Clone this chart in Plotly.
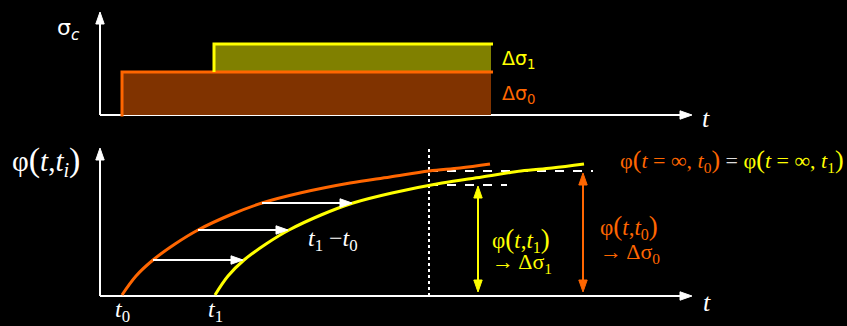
import plotly.graph_objects as go

# ---------------- data (chart units, 1 unit ~ 100 px) ----------------
t0 = 0.22            # first loading time
t1 = 1.14            # second loading time
t_load_end = 3.91    # end of drawn stress blocks
t_obs = 3.29         # observation time (dotted line)
t_axis_end = 5.92    # time axis extent
sigma_axis_top = 1.03
phi_axis_top = 1.48

d_sigma0 = 0.43      # stress increment at t0
d_sigma1 = 0.28      # stress increment at t1

creep_t0_t = [0.22, 0.36, 0.53, 0.75, 0.98, 1.30, 1.62, 2.00, 2.50, 2.90, 3.29, 3.60, 3.90]
creep_t0_phi = [0.01, 0.20, 0.36, 0.52, 0.66, 0.81, 0.93, 1.03, 1.13, 1.19, 1.25, 1.28, 1.32]
creep_t1_t = [1.15, 1.28, 1.44, 1.66, 1.89, 2.21, 2.53, 2.92, 3.42, 3.82, 4.21, 4.52, 4.84]
creep_t1_phi = [0.01, 0.20, 0.36, 0.52, 0.66, 0.81, 0.93, 1.03, 1.13, 1.19, 1.25, 1.28, 1.32]

shift_phi = [0.36, 0.66, 0.93]
shift_from = [0.53, 0.98, 1.62]
shift_to = [1.43, 1.88, 2.52]

phi_obs_t0 = 1.25    # phi(t_obs, t0)
phi_obs_t1 = 1.11    # phi(t_obs, t1)
dash_end_t0 = 4.93
dash_end_t1 = 4.07
arrow_t1_at = 3.78
arrow_t0_at = 4.83
arrow_base = 0.04

ORANGE = "#FF6600"
YELLOW = "#FFFF00"
WHITE = "#FFFFFF"
ORANGE_FILL = "#803300"
YELLOW_FILL = "#808000"
HEAD_LEN = 0.12
HEAD_HALF = 0.042

fig = go.Figure()


def line(xs, ys, color, width=2, dash=None, yaxis="y", shape="linear"):
    fig.add_trace(go.Scatter(x=xs, y=ys, mode="lines", yaxis=yaxis,
                             line=dict(color=color, width=width, dash=dash, shape=shape),
                             hoverinfo="skip", showlegend=False))


def head(x, y, direction, color, yaxis="y"):
    if direction == "right":
        xs = [x, x - HEAD_LEN, x - HEAD_LEN, x]
        ys = [y, y + HEAD_HALF, y - HEAD_HALF, y]
    elif direction == "up":
        xs = [x, x - HEAD_HALF, x + HEAD_HALF, x]
        ys = [y, y - HEAD_LEN, y - HEAD_LEN, y]
    else:  # down
        xs = [x, x - HEAD_HALF, x + HEAD_HALF, x]
        ys = [y, y + HEAD_LEN, y + HEAD_LEN, y]
    fig.add_trace(go.Scatter(x=xs, y=ys, mode="lines", fill="toself", fillcolor=color,
                             yaxis=yaxis, line=dict(color=color, width=1),
                             hoverinfo="skip", showlegend=False))


# ---------------- top panel: stress history ----------------
line([0, 0], [0, sigma_axis_top - HEAD_LEN + 0.01], WHITE, 2, yaxis="y2")
head(0, sigma_axis_top, "up", WHITE, yaxis="y2")
line([0, t_axis_end - HEAD_LEN + 0.01], [0, 0], WHITE, 2, yaxis="y2")
head(t_axis_end, 0, "right", WHITE, yaxis="y2")

fig.add_trace(go.Scatter(x=[t0, t0, t_load_end, t_load_end, t0],
                         y=[0, d_sigma0, d_sigma0, 0, 0], mode="lines", fill="toself",
                         fillcolor=ORANGE_FILL, line=dict(width=0, color=ORANGE_FILL),
                         yaxis="y2", hoverinfo="skip", showlegend=False))
top1 = d_sigma0 + d_sigma1
fig.add_trace(go.Scatter(x=[t1, t1, t_load_end, t_load_end, t1],
                         y=[d_sigma0, top1, top1, d_sigma0, d_sigma0], mode="lines",
                         fill="toself", fillcolor=YELLOW_FILL,
                         line=dict(width=0, color=YELLOW_FILL),
                         yaxis="y2", hoverinfo="skip", showlegend=False))
line([t0, t0, t_load_end + 0.02], [-0.015, d_sigma0, d_sigma0], ORANGE, 3, yaxis="y2")
line([t1, t1, t_load_end + 0.02], [d_sigma0, top1, top1], YELLOW, 3, yaxis="y2")

# ---------------- bottom panel: creep coefficients ----------------
line([0, 0], [0, phi_axis_top - HEAD_LEN + 0.01], WHITE, 2)
head(0, phi_axis_top, "up", WHITE)
line([0, t_axis_end - HEAD_LEN + 0.01], [0, 0], WHITE, 2)
head(t_axis_end, 0, "right", WHITE)

line([t_obs, t_obs], [0, phi_axis_top], WHITE, 2, dash="dot")
line([t_obs, dash_end_t0], [phi_obs_t0, phi_obs_t0], WHITE, 2, dash="dash")
line([t_obs, dash_end_t1], [phi_obs_t1, phi_obs_t1], WHITE, 2, dash="dash")

line(creep_t0_t, creep_t0_phi, ORANGE, 3, shape="spline")
line(creep_t1_t, creep_t1_phi, YELLOW, 3, shape="spline")

for p, a, b in zip(shift_phi, shift_from, shift_to):
    line([a, b - HEAD_LEN + 0.01], [p, p], WHITE, 2)
    head(b, p, "right", WHITE)

line([arrow_t1_at, arrow_t1_at], [arrow_base + HEAD_LEN - 0.01, phi_obs_t1 + 0.02 - HEAD_LEN + 0.01], YELLOW, 2)
head(arrow_t1_at, phi_obs_t1 - 0.01, "up", YELLOW)
head(arrow_t1_at, arrow_base, "down", YELLOW)
line([arrow_t0_at, arrow_t0_at], [arrow_base + HEAD_LEN - 0.01, phi_obs_t0 - 0.01 - HEAD_LEN + 0.01], ORANGE, 2)
head(arrow_t0_at, phi_obs_t0 - 0.02, "up", ORANGE)
head(arrow_t0_at, arrow_base, "down", ORANGE)

# ---------------- text ----------------
SANS = "DejaVu Sans"
SERIF = "Liberation Serif"


def text(x, y, s, color, size, family, yref="y", xanchor="center", align="center"):
    fig.add_annotation(x=x, y=y, xref="x", yref=yref, text=s, showarrow=False,
                       font=dict(color=color, size=size, family=family),
                       xanchor=xanchor, yanchor="middle", align=align)


text(-0.32, 0.86, "σ<sub><i>c</i></sub>", WHITE, 22, SANS, yref="y2")
text(t_load_end + 0.09, 0.56, "Δσ<sub>1</sub>", YELLOW, 19, SANS, yref="y2", xanchor="left")
text(t_load_end + 0.09, 0.21, "Δσ<sub>0</sub>", ORANGE, 19, SANS, yref="y2", xanchor="left")
text(6.06, -0.03, "<i>t</i>", WHITE, 26, SERIF, yref="y2")

text(-0.54, 1.35, "φ<span style='font-size:34px'>(</span><i>t</i>,<i>t<sub>i</sub></i>"
     "<span style='font-size:34px'>)</span>", WHITE, 29, SERIF)
text(t0, -0.15, "<i>t</i><sub>0</sub>", WHITE, 24, SERIF)
text(t1 + 0.01, -0.15, "<i>t</i><sub>1</sub>", WHITE, 24, SERIF)
text(2.33, 0.56, "<i>t</i><sub>1</sub> −<i>t</i><sub>0</sub>", WHITE, 24, SERIF)
text(6.07, -0.06, "<i>t</i>", WHITE, 26, SERIF)

text(3.90, 0.56, "φ<span style='font-size:27px'>(</span><i>t</i>,<i>t</i><sub>1</sub>"
     "<span style='font-size:27px'>)</span>", YELLOW, 23, SERIF, xanchor="left")
text(3.90, 0.33, "→ Δσ<sub>1</sub>", YELLOW, 22, SERIF, xanchor="left")
text(4.98, 0.69, "φ<span style='font-size:27px'>(</span><i>t</i>,<i>t</i><sub>0</sub>"
     "<span style='font-size:27px'>)</span>", ORANGE, 23, SERIF, xanchor="left")
text(4.98, 0.43, "→ Δσ<sub>0</sub>", ORANGE, 22, SERIF, xanchor="left")
text(6.32, 1.36,
     "<span style='color:#FF6600'>φ<span style='font-size:26px'>(</span><i>t</i> = ∞, <i>t</i><sub>0</sub>"
     "<span style='font-size:26px'>)</span></span> = "
     "<span style='color:#FFFF00'>φ<span style='font-size:26px'>(</span><i>t</i> = ∞, <i>t</i><sub>1</sub>"
     "<span style='font-size:26px'>)</span></span>",
     "#DDDDDD", 22, SERIF)

fig.update_layout(
    width=847, height=326,
    margin=dict(l=0, r=0, t=0, b=0, pad=0),
    paper_bgcolor="black", plot_bgcolor="black",
    xaxis=dict(range=[-1.0, 7.47], visible=False, fixedrange=True),
    yaxis=dict(range=[-0.30, 2.96], visible=False, fixedrange=True),
    yaxis2=dict(range=[-2.11, 1.15], visible=False, overlaying="y", fixedrange=True),
    showlegend=False,
)

fig.write_html(
    "out.html",
    config={"displayModeBar": False},
    post_script="document.body.style.margin='0';document.body.style.overflow='hidden';"
                "document.body.style.background='black';",
)
